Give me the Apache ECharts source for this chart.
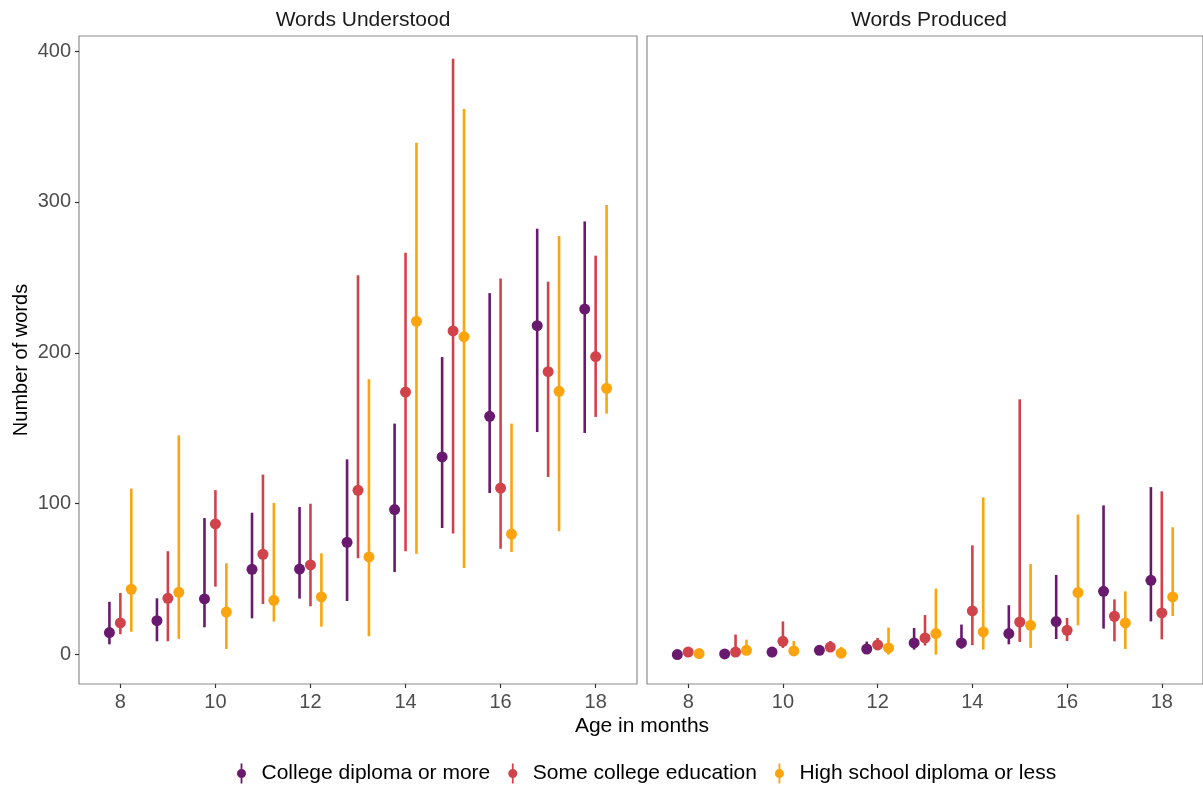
<!DOCTYPE html>
<html>
<head>
<meta charset="utf-8">
<script src="https://cdn.jsdelivr.net/npm/echarts@6/dist/echarts.min.js"></script>
<style>html,body{margin:0;padding:0;background:#fff}#c{width:1203px;height:786px}</style>
</head>
<body>
<div id="c"></div>
<script>
const ages = [8, 9, 10, 11, 12, 13, 14, 15, 16, 17, 18];
const groups = ['College diploma or more', 'Some college education', 'High school diploma or less'];
const panels = ['Words Understood', 'Words Produced'];
const xTicks = [8, 10, 12, 14, 16, 18];
const yTicks = [0, 100, 200, 300, 400];

// Words Understood
const undCollegeMean = [14.6, 22.5, 36.9, 56.5, 56.7, 74.4, 96.1, 131, 157.9, 218, 229];
const undCollegeLo   = [6.8, 8.8, 18.1, 24, 37.1, 35.5, 54.7, 83.9, 107.1, 147.5, 146.9];
const undCollegeHi   = [35, 37.3, 90.5, 94, 97.8, 129.4, 153.1, 197.2, 239.6, 282.3, 287.1];
const undSomeMean = [21, 37.3, 86.6, 66.5, 59.4, 108.9, 174, 214.5, 110.4, 187.5, 197.5];
const undSomeLo   = [13.5, 8.8, 45, 33.5, 32, 63.8, 68.5, 80.2, 70.2, 117.7, 157.5];
const undSomeHi   = [40.8, 68.5, 109, 119.3, 100, 251.4, 266.4, 395, 249.2, 247.2, 264.4];
const undHighMean = [43.3, 41.3, 28.2, 36, 38.2, 64.7, 220.9, 210.7, 79.9, 174.5, 176.5];
const undHighLo   = [15.2, 10.4, 3.7, 21.9, 18.5, 12.1, 66.9, 57.4, 68, 81.7, 159.7];
const undHighHi   = [110, 145.3, 60.5, 100.5, 67.1, 182.5, 339.3, 361.6, 153.1, 277.4, 298];

// Words Produced
const proCollegeMean = [0, 0.4, 1.7, 2.8, 3.7, 7.7, 7.7, 13.9, 21.9, 41.9, 49.2];
const proCollegeLo   = [0, 0, 0.5, 1, 1.5, 3.3, 4, 6.8, 10.3, 17.2, 22];
const proCollegeHi   = [1, 1, 3, 6, 8.6, 17.6, 19.9, 32.7, 52.8, 98.9, 111];
const proSomeMean = [1.7, 1.7, 8.8, 5, 6.4, 11, 28.9, 21.6, 16.1, 25.4, 27.6];
const proSomeLo   = [0.5, 0, 4.4, 2, 3, 6, 6.2, 8.4, 9, 8.8, 10.1];
const proSomeHi   = [4, 13.3, 22, 9, 11, 26.2, 72.4, 169.2, 24.3, 36.6, 108.2];
const proHighMean = [0.7, 2.8, 2.4, 0.9, 4.4, 13.9, 15, 19.4, 41.1, 21, 38.2];
const proHighLo   = [0, 0, 0, 0, 0, 0, 3.3, 4.4, 19.4, 3.7, 25.6];
const proHighHi   = [2, 9.9, 9, 5, 17.9, 43.7, 104.2, 60, 92.8, 41.9, 84.4];

const colors = ['#6A1A6E', '#D1434B', '#FBA40E'];
const dodge = [-0.23, 0, 0.23];

const panelData = [
  [[undCollegeMean, undCollegeLo, undCollegeHi], [undSomeMean, undSomeLo, undSomeHi], [undHighMean, undHighLo, undHighHi]],
  [[proCollegeMean, proCollegeLo, proCollegeHi], [proSomeMean, proSomeLo, proSomeHi], [proHighMean, proHighLo, proHighHi]]
];

const FONT = 'Liberation Sans, Arial, sans-serif';
const series = [];
panelData.forEach((pd, p) => {
  pd.forEach((g, k) => {
    const [mean, lo, hi] = g;
    series.push({
      type: 'custom', name: groups[k], xAxisIndex: p, yAxisIndex: p,
      data: ages.map((a, i) => [a + dodge[k], lo[i], hi[i]]),
      encode: { x: 0, y: [1, 2] },
      itemStyle: { color: colors[k] },
      renderItem: function (params, api) {
        const p1 = api.coord([api.value(0), api.value(1)]);
        const p2 = api.coord([api.value(0), api.value(2)]);
        return { type: 'line', shape: { x1: p1[0], y1: p1[1], x2: p2[0], y2: p2[1] },
          style: { stroke: colors[k], lineWidth: 2.6 } };
      },
      silent: true, z: 2
    });
    series.push({
      type: 'scatter', name: groups[k], xAxisIndex: p, yAxisIndex: p,
      data: ages.map((a, i) => [a + dodge[k], mean[i]]),
      symbol: 'circle', symbolSize: 11,
      itemStyle: { color: colors[k], opacity: 1 },
      silent: true, z: 3
    });
  });
});

const xRange = [7.13, 18.87];
const yRange = [-19.5, 410];
const gridW = 558;
const grids = [
  { left: 79, top: 36, width: gridW, height: 648, show: true, borderColor: '#8c8c8c', borderWidth: 1.2, backgroundColor: '#fff' },
  { left: 647, top: 36, width: gridW, height: 648, show: true, borderColor: '#8c8c8c', borderWidth: 1.2, backgroundColor: '#fff' }
];
const xAxes = grids.map((g, i) => ({
  type: 'value', gridIndex: i, min: xRange[0], max: xRange[1],
  axisLine: { show: false, onZero: false }, splitLine: { show: false },
  axisTick: { show: true, length: 4, lineStyle: { color: '#333', width: 1.2 }, customValues: xTicks },
  axisLabel: { show: true, fontSize: 20, color: '#4d4d4d', fontFamily: FONT, margin: 8, customValues: xTicks }
}));
const yAxes = grids.map((g, i) => ({
  type: 'value', gridIndex: i, min: yRange[0], max: yRange[1],
  axisLine: { show: false, onZero: false }, splitLine: { show: false },
  axisTick: { show: i === 0, length: 4, lineStyle: { color: '#333', width: 1.2 }, customValues: yTicks },
  axisLabel: { show: i === 0, fontSize: 20, color: '#4d4d4d', fontFamily: FONT, margin: 8, customValues: yTicks },
  name: i === 0 ? 'Number of words' : '', nameLocation: 'middle', nameGap: 48,
  nameTextStyle: { fontSize: 20, color: '#000', fontFamily: FONT }
}));

const legendIcon = 'path://M4.1,0 L5.9,0 L5.9,6 L4.1,6 Z M4.1,14 L5.9,14 L5.9,20 L4.1,20 Z M0.5,10 A4.5,4.5 0 1,1 9.5,10 A4.5,4.5 0 1,1 0.5,10 Z';

const chart = echarts.init(document.getElementById('c'), null, { renderer: 'canvas' });
chart.setOption({
  backgroundColor: '#fff',
  animation: false,
  title: [
    { text: panels[0], left: 79 + gridW / 2, top: 5, textAlign: 'center', textStyle: { fontSize: 21, fontWeight: 'normal', color: '#1a1a1a', fontFamily: FONT } },
    { text: panels[1], left: 647 + gridW / 2 - 2, top: 5, textAlign: 'center', textStyle: { fontSize: 21, fontWeight: 'normal', color: '#1a1a1a', fontFamily: FONT } }
  ],
  graphic: [
    { type: 'text', x: 642, y: 726, style: { text: 'Age in months', font: '21px Liberation Sans, Arial, sans-serif', fill: '#000', align: 'center', verticalAlign: 'middle' } }
  ],
  legend: {
    top: 763, left: 237, padding: 0,
    data: groups.map(g => ({ name: g, icon: legendIcon })),
    itemWidth: 10, itemHeight: 20, itemGap: 18,
    textStyle: { fontSize: 21, color: '#000', fontFamily: FONT, padding: [0, 0, 0, 10] },
    selectedMode: false
  },
  grid: grids, xAxis: xAxes, yAxis: yAxes, series: series
});
</script>
</body>
</html>
